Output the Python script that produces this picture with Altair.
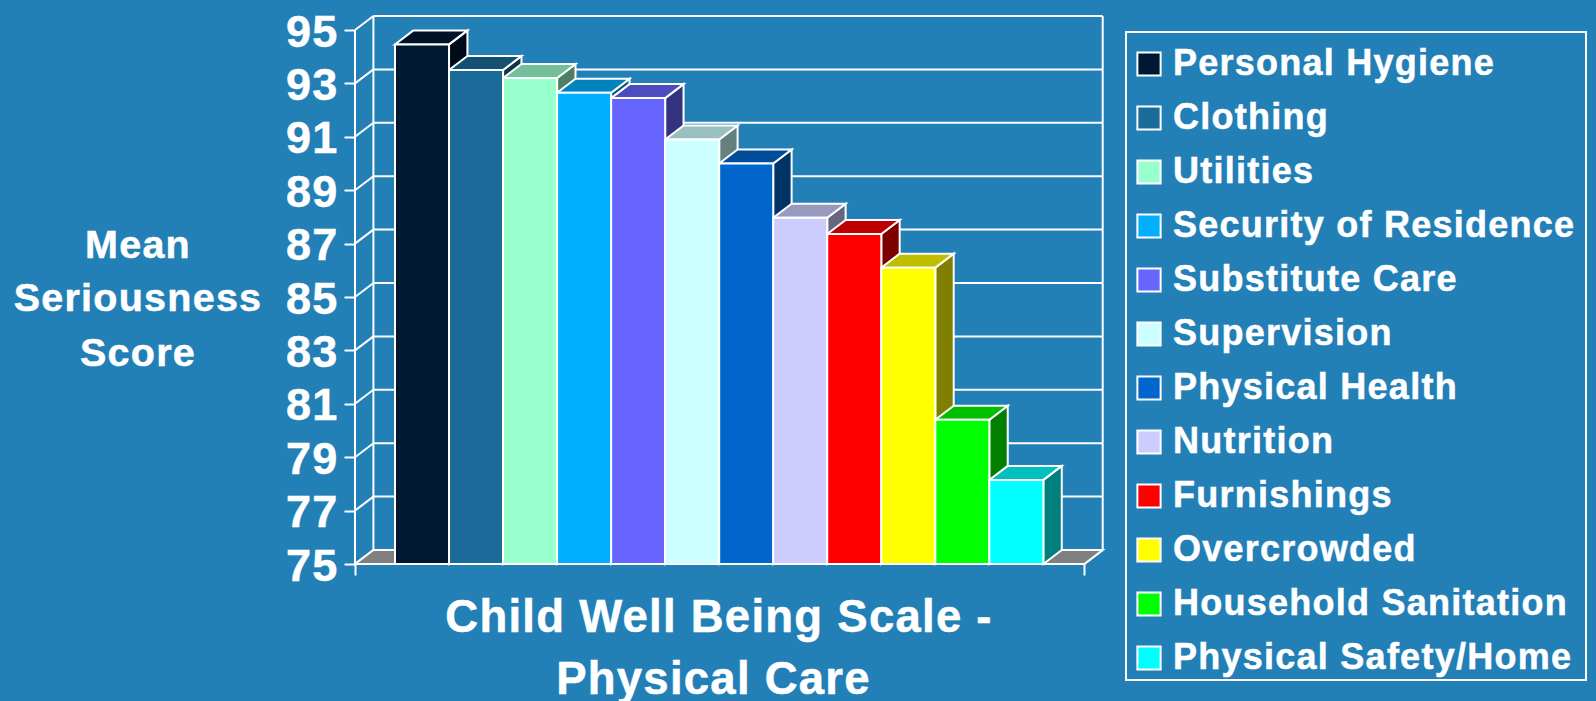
import altair as alt
import pandas as pd

names = ["Personal Hygiene", "Clothing", "Utilities", "Security of Residence", "Substitute Care",
         "Supervision", "Physical Health", "Nutrition", "Furnishings", "Overcrowded",
         "Household Sanitation", "Physical Safety/Home"]
values = [94.46, 93.5, 93.2, 92.65, 92.45, 90.9, 90.0, 87.97, 87.36, 86.1, 80.4, 78.15]
colors = ["#001933", "#1a6b99", "#99ffcc", "#00b0ff", "#6666ff", "#ccffff",
          "#0066cc", "#ccccff", "#ff0000", "#ffff00", "#00ff00", "#00ffff"]
ticks = list(range(75, 96, 2))
ylabel_lines = ["Mean", "Seriousness", "Score"]
xlabel_lines = ["Child Well Being Scale -", "Physical Care"]

BG = "#2380B7"
FONT = "Liberation Sans"
CSS = ("html,body{background:%s;margin:0;overflow:hidden;} "
       "svg text{letter-spacing:1.25px;stroke:white;stroke-width:0.5px;}" % BG)

# scale geometry: x in bar widths, y in score units
PX_X = 54.03
PX_Y = 26.7
VIEW_W, VIEW_H = 748, 548
XMAX = VIEW_W / PX_X
YMAX = 75 + VIEW_H / PX_Y
DX = 18.4 / PX_X          # depth of the 3-D box
DY = 14 / PX_Y
FIRST = 40 / PX_X         # gap before first bar
FLOOR = 729.3 / PX_X      # front floor length


def shade(hex_color, k):
    r, g, b = [int(hex_color[i:i + 2], 16) for i in (1, 3, 5)]
    return "#%02x%02x%02x" % (int(r * k), int(g * k), int(b * k))


fronts, tops, sides = [], [], []
for i, (n, v, c) in enumerate(zip(names, values, colors)):
    L, R = FIRST + i, FIRST + i + 1
    fronts.append({"name": n, "x": L, "x2": R, "y": 75, "y2": v})
    for yy, off in ((v, 0), (v + DY, DX)):
        tops.append({"bar": n, "y": yy, "x": L + off, "x2": R + off, "fill": shade(c, 0.75)})
    for xx, off in ((R, 0), (R + DX, DY)):
        sides.append({"bar": n, "x": xx, "y": 75 + off, "y2": v + off, "fill": shade(c, 0.5)})

floor = [{"y": 75, "x": 0, "x2": FLOOR}, {"y": 75 + DY, "x": DX, "x2": FLOOR + DX}]

walls = []
for t in ticks:
    walls.append({"x": DX, "x2": FLOOR + DX, "y": t + DY, "y2": t + DY})
    walls.append({"x": 0, "x2": DX, "y": t, "y2": t + DY})
walls.append({"x": 0, "x2": 0, "y": 75, "y2": 95})
walls.append({"x": DX, "x2": DX, "y": 75 + DY, "y2": 95 + DY})
walls.append({"x": FLOOR + DX, "x2": FLOOR + DX, "y": 75 + DY, "y2": 95 + DY})
walls.append({"x": FLOOR, "x2": FLOOR + DX, "y": 75, "y2": 75 + DY})

xs = alt.Scale(domain=[0, XMAX], nice=False, zero=False)
ys = alt.Scale(domain=[75, YMAX], nice=False, zero=False)
X = alt.X("x:Q", scale=xs, axis=alt.Axis(values=[0, FLOOR], labels=False, title=None, domain=False, grid=False,
                                         ticks=True, tickSize=11, tickColor="white", tickWidth=2))
Y = alt.Y("y:Q", scale=ys, axis=alt.Axis(values=ticks, title=None, domain=False, grid=False, tickSize=11,
                                         tickColor="white", tickWidth=2, labelColor="white", labelFontSize=45,
                                         labelFontWeight="bold", labelFont=FONT, labelPadding=6, labelOffset=2,
                                         format="d", labelBound=False, labelOverlap=False))
nofill = alt.Fill("fill:N", scale=None, legend=None)

wall_layer = alt.Chart(pd.DataFrame(walls)).mark_rule(color="white", strokeWidth=2).encode(
    x=X, x2="x2:Q", y=alt.Y("y:Q", scale=ys), y2="y2:Q")
floor_layer = alt.Chart(pd.DataFrame(floor)).mark_area(
    orient="horizontal", color="#808080", stroke="white", strokeWidth=2).encode(
    y=Y, x=alt.X("x:Q", scale=xs), x2="x2:Q")
side_layer = alt.Chart(pd.DataFrame(sides)).mark_area(stroke="white", strokeWidth=2).encode(
    x=alt.X("x:Q", scale=xs), y=alt.Y("y:Q", scale=ys), y2="y2:Q", detail="bar:N", fill=nofill)
top_layer = alt.Chart(pd.DataFrame(tops)).mark_area(orient="horizontal", stroke="white", strokeWidth=2).encode(
    y=alt.Y("y:Q", scale=ys), x=alt.X("x:Q", scale=xs), x2="x2:Q", detail="bar:N", fill=nofill)
front_layer = alt.Chart(pd.DataFrame(fronts)).mark_rect(stroke="white", strokeWidth=2).encode(
    x=alt.X("x:Q", scale=xs), x2="x2:Q", y=alt.Y("y:Q", scale=ys), y2="y2:Q",
    color=alt.Color("name:N", scale=alt.Scale(domain=names, range=colors), sort=names,
                    legend=alt.Legend(title=None, orient="none", legendX=776, legendY=30, padding=0,
                                      symbolType="square", symbolSize=540, symbolStrokeColor="white",
                                      symbolStrokeWidth=2, symbolOpacity=1, labelColor="white",
                                      labelFontSize=36, labelFontWeight="bold", labelFont=FONT,
                                      labelLimit=600, labelOffset=6, rowPadding=18, columnPadding=0)))
bottom_axis = alt.Chart(pd.DataFrame([{"x": 0, "x2": FLOOR, "y": 75}])).mark_rule(color="white", strokeWidth=2).encode(
    x=alt.X("x:Q", scale=xs), x2="x2:Q", y=alt.Y("y:Q", scale=ys))

legend_box = alt.Chart(pd.DataFrame({"a": [0]})).mark_rect(fill=None, stroke="white", strokeWidth=2).encode(
    x=alt.value(771), x2=alt.value(1231), y=alt.value(16), y2=alt.value(664))


def text_line(s, x, y, size):
    return alt.Chart(pd.DataFrame({"t": [s]})).mark_text(
        color="white", font=FONT, fontWeight="bold", fontSize=size, align="center", baseline="alphabetic").encode(
        text="t:N", x=alt.value(x), y=alt.value(y))


texts = [text_line(s, -217, y, 39.5) for s, y in zip(ylabel_lines, (242.3, 295, 349.7))]
texts += [text_line(xlabel_lines[0], 364, 615.7, 45.5), text_line(xlabel_lines[1], 358.5, 677.5, 45.5)]

chart = alt.layer(wall_layer, floor_layer, side_layer, top_layer, front_layer, bottom_axis, legend_box, *texts).properties(
    width=VIEW_W, height=VIEW_H,
    background=BG,
    padding={"left": 355, "top": 16, "right": 493, "bottom": 137},
    autosize=alt.AutoSizeParams(type="none"),
).configure_view(stroke=None)

chart.save("out.html", embed_options={"renderer": "svg", "actions": False, "defaultStyle": CSS})
